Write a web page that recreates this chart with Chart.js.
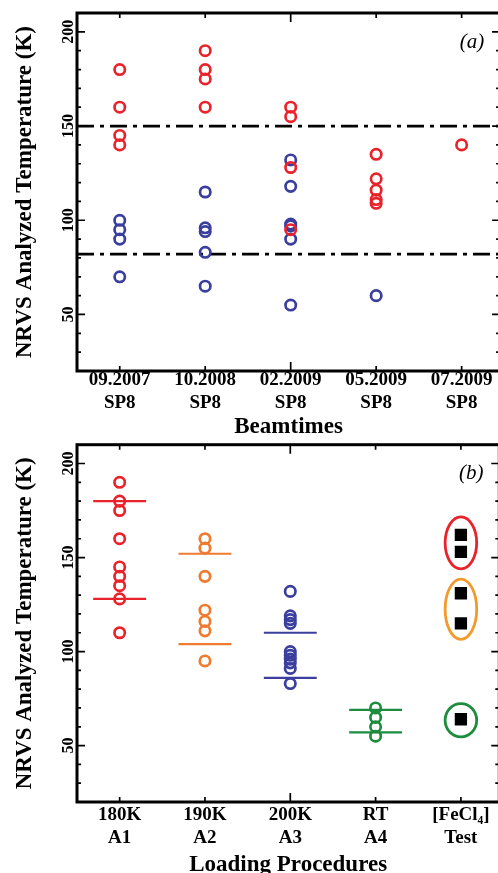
<!DOCTYPE html>
<html>
<head>
<meta charset="utf-8">
<script src="https://cdn.jsdelivr.net/npm/chart.js@4.4.1/dist/chart.umd.min.js"></script>
<style>
  html, body { margin: 0; padding: 0; background: #fff; overflow: hidden; width: 498px; height: 873px; }
  #wrap { width: 498px; height: 873px; overflow: hidden; position: relative; }
  canvas { display: block; width: 508px; }
</style>
</head>
<body>
<div id="wrap">
<canvas id="panelA" width="508" height="436"></canvas>
<canvas id="panelB" width="508" height="437"></canvas>
</div>
<script>
// panel (a): beamtimes
const beamtimes = [["09.2007", "SP8"], ["10.2008", "SP8"], ["02.2009", "SP8"], ["05.2009", "SP8"], ["07.2009", "SP8"]];
const redByBeamtime = [[180, 160, 145, 140], [190, 180, 175, 160], [160, 155, 128, 95], [135, 122, 116, 111, 109], [140]];
const blueByBeamtime = [[100, 95, 90, 70], [115, 96, 94, 83, 65], [132, 118, 98, 97, 90, 55], [60], []];
const refLines = [150, 82];

// panel (b): loading procedures
const procedures = [["180K", "A1"], ["190K", "A2"], ["200K", "A3"], ["RT", "A4"], ["[FeCl\u2084]", "Test"]];
const a1 = [190, 180, 175, 160, 145, 140, 135, 128, 110];
const a2 = [160, 155, 140, 122, 116, 111, 95];
const a3 = [132, 119, 117, 115, 100, 98, 96, 94, 91, 83];
const a4 = [70, 65, 60, 55];
const testSamples = [162, 153, 131, 115, 64];
const rangeLines = [[180, 128], [152, 104], [110, 86], [69, 57]];
const ellipseLow = [144, 106.5, 54.6];
const ellipseHigh = [171.6, 138.5, 72.3];

const yTicks = [50, 100, 150, 200];

const serif = '"Liberation Serif", "Times New Roman", serif';
const RED = '#e8232b', BLUE = '#3a3f9e', ORANGE = '#ee7b30', GREEN = '#1e8c3e';
const rangeColors = [RED, ORANGE, BLUE, GREEN];
const ellipseColors = [RED, '#f39a2e', GREEN];

function pts(groups) {
  return groups.flatMap((g, i) => g.map(v => ({ x: i + 1, y: v })));
}

function circles(data, color) {
  return {
    data: data,
    pointStyle: 'circle',
    pointRadius: 5.2,
    pointBorderWidth: 2.7,
    pointBorderColor: color,
    pointBackgroundColor: 'rgba(0,0,0,0)',
    showLine: false
  };
}

function hline(x0, x1, y, color, width, dash) {
  return {
    data: [{ x: x0, y: y }, { x: x1, y: y }],
    showLine: true,
    borderColor: color,
    borderWidth: width,
    borderDash: dash || [],
    pointRadius: 0
  };
}

function framePlugin(label) {
  return {
    id: 'frame',
    afterDraw(chart) {
      const { ctx, chartArea: a, scales: { x, y } } = chart;
      ctx.save();
      ctx.strokeStyle = '#000';
      ctx.lineWidth = 3;
      ctx.strokeRect(a.left, a.top, a.right - a.left, a.bottom - a.top);
      ctx.lineWidth = 1.7;
      ctx.beginPath();
      for (let v = 30; v <= 200; v += 10) {
        const py = y.getPixelForValue(v);
        const len = v % 50 === 0 ? 8 : 4;
        ctx.moveTo(a.left, py); ctx.lineTo(a.left + len, py);
        ctx.moveTo(a.right, py); ctx.lineTo(a.right - len, py);
      }
      x.ticks.forEach(t => {
        const px = x.getPixelForValue(t.value);
        const len = t.value === 3 ? 9 : 5;
        ctx.moveTo(px, a.top); ctx.lineTo(px, a.top + len);
        ctx.moveTo(px, a.bottom); ctx.lineTo(px, a.bottom - len);
      });
      ctx.stroke();

      // y tick labels are rotated in the original
      ctx.fillStyle = '#000';
      ctx.font = 'bold 16px ' + serif;
      ctx.textAlign = 'center';
      ctx.textBaseline = 'middle';
      yTicks.forEach(v => {
        ctx.save();
        ctx.translate(69, y.getPixelForValue(v));
        ctx.rotate(-Math.PI / 2);
        ctx.fillText(String(v), 0, 0);
        ctx.restore();
      });

      ctx.font = 'italic 21px ' + serif;
      ctx.fillText(label, a.right - 28, a.top + 29);
      ctx.restore();
    }
  };
}

const ellipsePlugin = {
  id: 'ellipses',
  afterDatasetsDraw(chart) {
    const { ctx, scales: { x, y } } = chart;
    ctx.save();
    ctx.lineWidth = 2.8;
    ellipseLow.forEach((lo, i) => {
      const cx = x.getPixelForValue(5);
      const rx = x.getPixelForValue(5.185) - cx;
      const top = y.getPixelForValue(ellipseHigh[i]);
      const bot = y.getPixelForValue(lo);
      ctx.strokeStyle = ellipseColors[i];
      ctx.beginPath();
      ctx.ellipse(cx, (top + bot) / 2, rx, (bot - top) / 2, 0, 0, Math.PI * 2);
      ctx.stroke();
    });
    ctx.restore();
  }
};

function makePanel(id, labels, datasets, opts) {
  return new Chart(document.getElementById(id), {
    type: 'scatter',
    data: { datasets: datasets },
    options: {
      responsive: false,
      animation: false,
      layout: { padding: { top: opts.top, right: 5, left: 0, bottom: 0 } },
      plugins: { legend: { display: false }, tooltip: { enabled: false } },
      scales: {
        x: {
          type: 'linear',
          min: 0.5,
          max: 5.45,
          afterBuildTicks: s => { s.ticks = labels.map((l, i) => ({ value: i + 1 })); },
          afterFit: s => {
            s.height = opts.xHeight;
            // the box runs past the right edge in the original, labels need no room
            s.paddingLeft = 0;
            s.paddingRight = 0;
          },
          grid: { display: false, drawTicks: false },
          border: { display: false },
          ticks: {
            autoSkip: false,
            maxRotation: 0,
            padding: opts.tickPad,
            color: '#000',
            font: { family: serif, size: 19, weight: 'bold', lineHeight: 1.2 },
            callback: v => labels[v - 1]
          },
          title: {
            display: true,
            text: opts.xTitle,
            color: '#000',
            font: { family: serif, size: 23, weight: 'bold' },
            padding: { top: 0, bottom: opts.titlePad }
          }
        },
        y: {
          min: 20,
          max: 210,
          afterFit: s => { s.width = 77; },
          grid: { display: false, drawTicks: false },
          border: { display: false },
          ticks: { display: false },
          title: {
            display: true,
            text: 'NRVS Analyzed Temperature (K)',
            color: '#000',
            font: { family: serif, size: 23, weight: 'bold' },
            padding: { top: 11, bottom: 0 }
          }
        }
      }
    },
    plugins: opts.plugins
  });
}

// panel (a)
makePanel('panelA', beamtimes, [
  circles(pts(redByBeamtime), RED),
  circles(pts(blueByBeamtime), BLUE),
  ...refLines.map(v => hline(0.5, 5.45, v, '#000', 2.8, [17, 6, 4, 6]))
], { top: 13, xHeight: 65, tickPad: -2, titlePad: -5, xTitle: 'Beamtimes', plugins: [framePlugin('(a)')] });

// panel (b)
const groups = [a1, a2, a3, a4];
makePanel('panelB', procedures, [
  {
    data: testSamples.map(v => ({ x: 5, y: v })),
    pointStyle: 'rect',
    pointRadius: 8.7,
    pointBorderWidth: 0,
    pointBackgroundColor: '#000',
    showLine: false
  },
  ...groups.map((g, i) => circles(g.map(v => ({ x: i + 1, y: v })), rangeColors[i])),
  ...rangeLines.flatMap((r, i) => r.map(v => hline(i + 1 - 0.31, i + 1 + 0.31, v, rangeColors[i], 2.2)))
], { top: 8, xHeight: 71, tickPad: 2, titlePad: -6, xTitle: 'Loading Procedures', plugins: [framePlugin('(b)'), ellipsePlugin] });
</script>
</body>
</html>
